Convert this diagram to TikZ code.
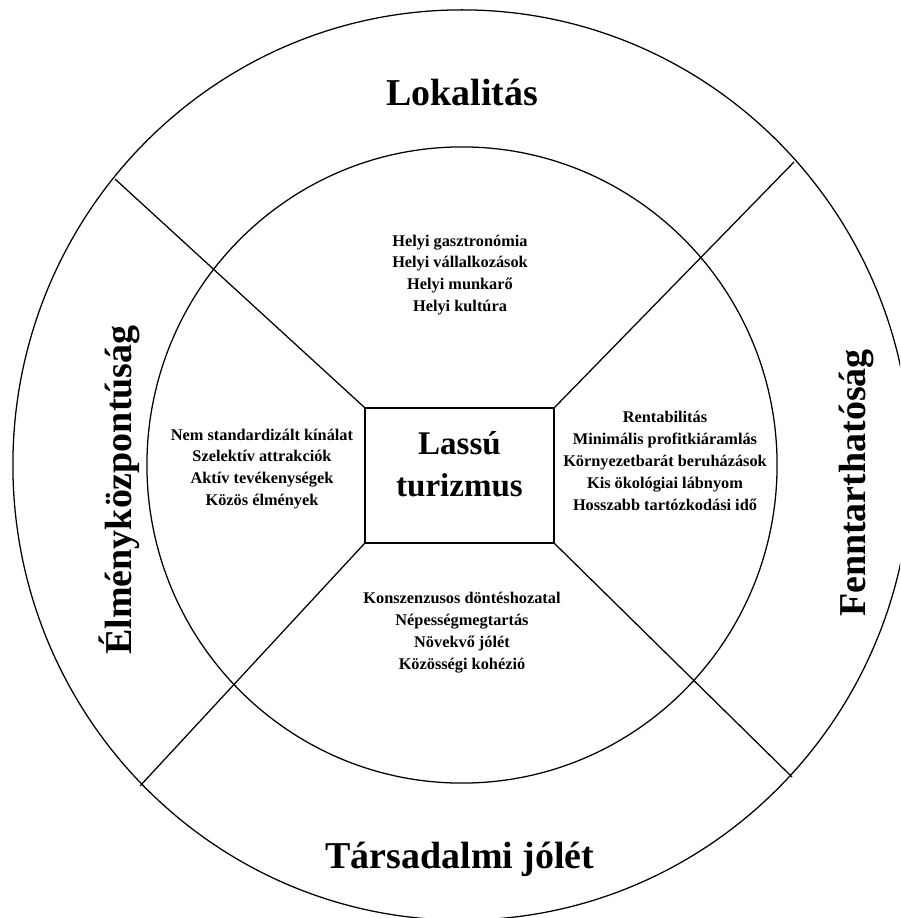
\documentclass[tikz,border=0pt]{standalone}
\usepackage{fontspec}
\setmainfont{Liberation Serif}
\begin{document}
\begin{tikzpicture}[x=0.025cm,y=-0.025cm,
  ring/.style={line width=0.9pt,draw=black},
  spoke/.style={line width=0.9pt,draw=black},
  bigtitle/.style={font=\fontsize{27}{30}\selectfont\bfseries,inner sep=0pt},
  itemlist/.style={font=\fontsize{11.6}{15.6}\selectfont\bfseries,align=center,inner sep=0pt},
  corebox/.style={draw=black,line width=0.9pt,minimum width=4.725cm,minimum height=3.375cm,inner sep=0pt},
  coretext/.style={font=\fontsize{23.5}{30}\selectfont\bfseries,align=center,inner sep=0pt}]
\clip (0,0) rectangle (900,918);
\fill[white] (0,0) rectangle (900,918);
% rings
\draw[ring] (462,465) ellipse [x radius=11.225cm, y radius=11.375cm];
\draw[ring] (462,465) ellipse [x radius=7.875cm, y radius=7.95cm];
% central box
\node[corebox] (box) at (459.5,475.5) {};
\node[coretext] (core) at (459.5,464) {Lassú\\turizmus};
% outer ends of the spokes
\coordinate (otl) at (115,179);
\coordinate (otr) at (794,162);
\coordinate (obl) at (140,786);
\coordinate (obr) at (792,777);
\draw[spoke] (box.north west) -- (otl);
\draw[spoke] (box.north east) -- (otr);
\draw[spoke] (box.south west) -- (obl);
\draw[spoke] (box.south east) -- (obr);
% big titles
\node[bigtitle,anchor=base] (lok) at (462,106) {Lokalitás};
\node[bigtitle,anchor=base] (tars) at (460,868) {Társadalmi jólét};
\node[bigtitle,anchor=base,rotate=90] (elm) at (131,490) {Élményközpontúság};
\node[bigtitle,anchor=base,rotate=90] (fenn) at (865,483) {Fenntarthatóság};
% item lists
\node[itemlist] (top) at (460,275) {Helyi gasztronómia\\Helyi vállalkozások\\Helyi munkarő\\Helyi kultúra};
\node[itemlist] (left) at (262,469) {Nem standardizált kínálat\\Szelektív attrakciók\\Aktív tevékenységek\\Közös élmények};
\node[itemlist] (right) at (665,461) {Rentabilitás\\Minimális profitkiáramlás\\Környezetbarát beruházások\\Kis ökológiai lábnyom\\Hosszabb tartózkodási idő};
\node[itemlist] (bottom) at (462,633) {Konszenzusos döntéshozatal\\Népességmegtartás\\Növekvő jólét\\Közösségi kohézió};
\end{tikzpicture}
\end{document}
